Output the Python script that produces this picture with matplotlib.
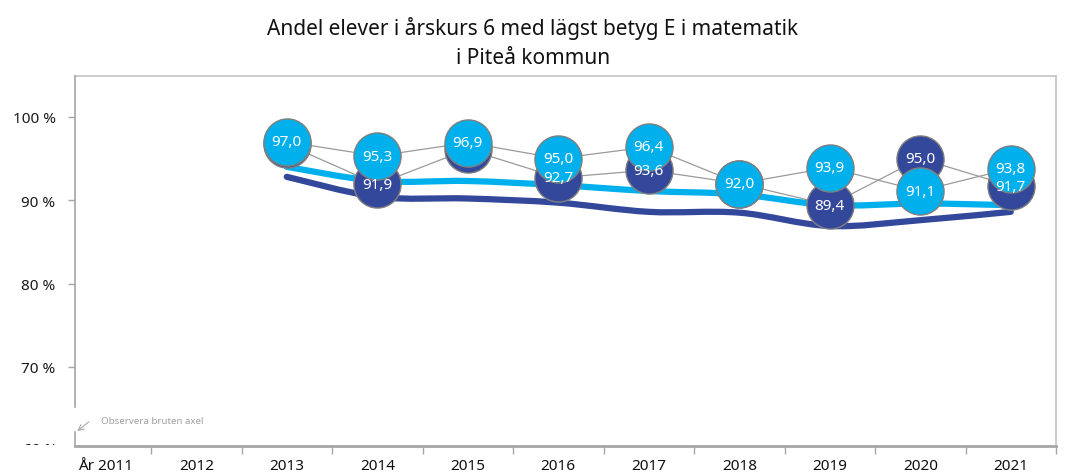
import matplotlib
matplotlib.use("Agg")
from matplotlib import pyplot as plt
from matplotlib.patches import Rectangle, PathPatch
from matplotlib.path import Path
import numpy as np

plt.rcParams['font.family'] = ['Noto Sans', 'DejaVu Sans']

years = ['År 2011', '2012', '2013', '2014', '2015', '2016', '2017', '2018', '2019', '2020', '2021']
pt_years = ['2013', '2014', '2015', '2016', '2017', '2018', '2019', '2020', '2021']

# punkter (cirklar)
light_vals = [97.0, 95.3, 96.9, 95.0, 96.4, 92.0, 93.9, 91.1, 93.8]
dark_vals = [96.7, 91.9, 96.1, 92.7, 93.6, 92.0, 89.4, 95.0, 91.7]
# vilka etiketter syns
light_show = [True, True, True, True, True, True, True, True, True]
dark_show = [False, True, False, True, True, False, True, True, True]

# tjocka linjer
light_trend = [94.0, 92.3, 92.3, 91.8, 91.1, 90.7, 89.4, 89.6, 89.4]
dark_trend = [92.8, 90.4, 90.2, 89.7, 88.6, 88.5, 86.9, 87.6, 88.6]

light_c = '#00b0ec'
dark_c = '#33489a'


def smooth_path(xs, ys, k=1/6):
    # utjämnad linje som i Excel (Catmull-Rom som Bezier)
    pts = np.column_stack([xs, ys]).astype(float)
    verts = [pts[0]]
    codes = [Path.MOVETO]
    n = len(pts)
    for i in range(n - 1):
        p0 = pts[max(i - 1, 0)]
        p1 = pts[i]
        p2 = pts[i + 1]
        p3 = pts[min(i + 2, n - 1)]
        c1 = p1 + (p2 - p0) * k
        c2 = p2 - (p3 - p1) * k
        verts += [c1, c2, p2]
        codes += [Path.CURVE4] * 3
    return Path(verts, codes)


fig = plt.figure(figsize=(10.65, 4.77), dpi=100)
ax = fig.add_axes([75/1065, 1-447/477, (1056-75)/1065, (447-77)/477])

x = np.array([years.index(y) for y in pt_years])

for vals, c in [(light_trend, light_c), (dark_trend, dark_c)]:
    ax.add_patch(PathPatch(smooth_path(x, vals), facecolor='none', edgecolor=c, lw=4.5,
                           capstyle='round', joinstyle='round', zorder=2))

ax.plot(x, light_vals, color='#9a9a9a', lw=0.9, zorder=3)
ax.plot(x, dark_vals, color='#9a9a9a', lw=0.9, zorder=3)

ax.scatter(x, dark_vals, s=1150, color=dark_c, edgecolor='#7f7f7f', linewidth=1.0, zorder=4)
ax.scatter(x, light_vals, s=1150, color=light_c, edgecolor='#7f7f7f', linewidth=1.0, zorder=5)

for xi, v, show in zip(x, dark_vals, dark_show):
    if show:
        ax.text(xi, v, f'{v:.1f}'.replace('.', ','), color='white', fontsize=11,
                ha='center', va='center', zorder=6)
for xi, v, show in zip(x, light_vals, light_show):
    if show:
        ax.text(xi, v, f'{v:.1f}'.replace('.', ','), color='white', fontsize=11,
                ha='center', va='center', zorder=7)

ax.set_xlim(-0.34, 10.5)
ax.set_ylim(60.5, 104.9)

ax.set_yticks([70, 80, 90, 100])
ax.set_yticklabels(['70 %', '80 %', '90 %', '100 %'], fontsize=11, color='#1a1a1a')
ax.tick_params(axis='y', length=5, width=1, color='#a6a6a6', pad=9)

ax.set_xticks(range(len(years)))
ax.set_xticklabels(years, fontsize=11, color='#111111')
ax.set_xticks(np.arange(0.5, 11, 1), minor=True)
ax.tick_params(axis='x', which='major', length=0, pad=9)
ax.tick_params(axis='x', which='minor', length=6, width=1, color='#a6a6a6')

for s in ['top', 'right']:
    ax.spines[s].set_color('#c4c4c4')
    ax.spines[s].set_linewidth(1.2)
ax.spines['bottom'].set_color('#a6a6a6')
ax.spines['bottom'].set_linewidth(2)
ax.spines['left'].set_visible(False)
# vänsteraxel med brott
ax.plot([0, 0], [0.105, 1], transform=ax.transAxes, color='#a6a6a6', lw=1.2, clip_on=False, zorder=8)
ax.plot([0, 0], [0, 0.038], transform=ax.transAxes, color='#a6a6a6', lw=1.2, clip_on=False, zorder=8)

ax.annotate('', xy=(75, 477-434), xycoords='figure pixels', xytext=(91, 477-421), textcoords='figure pixels',
            arrowprops=dict(arrowstyle='->', color='#b0b0b0', lw=0.9))
fig.text(101/1065, 1-422/477, 'Observera bruten axel', fontsize=7, color='#a0a0a0', ha='left', va='center')

# 60 % som skärs av
t60 = fig.text(57/1065, 1-451/477, '60 %', fontsize=11, color='#1a1a1a', ha='right', va='center')
clip = Rectangle((0, 1-446/477), 0.07, 0.1, transform=fig.transFigure)
t60.set_clip_path(clip)

fig.text(533/1065, 1-28/477, 'Andel elever i årskurs 6 med lägst betyg E i matematik',
         fontsize=15, ha='center', va='center', color='#111111')
fig.text(533/1065, 1-58/477, 'i Piteå kommun', fontsize=15, ha='center', va='center', color='#111111')

fig.savefig('out.png', dpi=100)
